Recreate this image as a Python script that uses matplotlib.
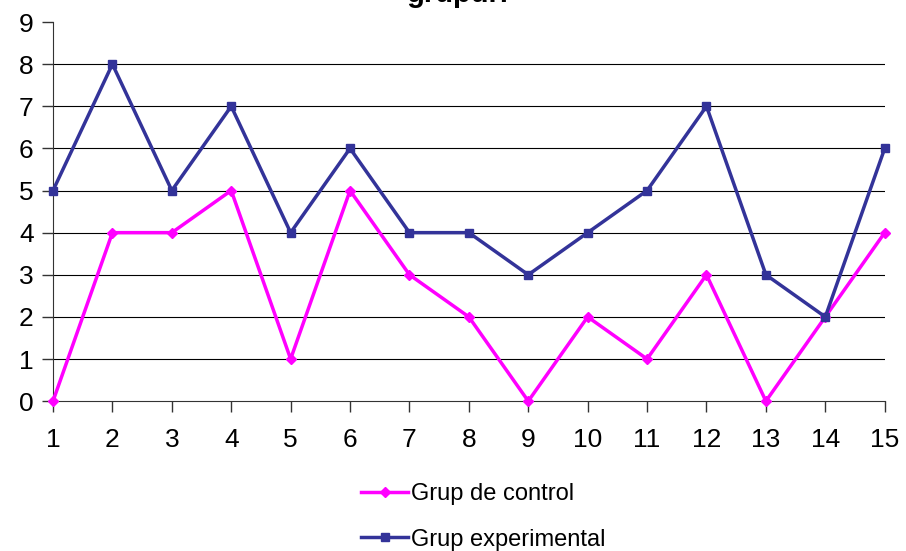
import matplotlib
matplotlib.use('Agg')
import matplotlib.pyplot as plt

plt.rcParams['font.family'] = ['Liberation Sans', 'DejaVu Sans']

sessions = list(range(1, 16))
control = [0, 4, 4, 5, 1, 5, 3, 2, 0, 2, 1, 3, 0, 2, 4]
experimental = [5, 8, 5, 7, 4, 6, 4, 4, 3, 4, 5, 7, 3, 2, 6]

fig = plt.figure(figsize=(9.06, 5.51), dpi=100)
ax = fig.add_axes([0.0585, 0.272, 0.918, 0.688])

ax.plot(sessions, control, color='#FF00FF', linewidth=2.5, marker='D', markersize=5,
        label='Grup de control', clip_on=False, zorder=3)
ax.plot(sessions, experimental, color='#333399', linewidth=2.5, marker='s', markersize=6,
        label='Grup experimental', clip_on=False, zorder=4)

ax.set_xlim(1, 15)
ax.set_ylim(0, 9)
ax.set_xticks(sessions)
ax.set_yticks(range(0, 10))
ax.tick_params(axis='both', labelsize=19, direction='out', length=8, width=1, color='#333333')
ax.tick_params(axis='x', pad=11)
ax.tick_params(axis='y', pad=6)

for y in range(1, 9):
    ax.axhline(y, color='black', linewidth=0.8, zorder=1)

ax.spines['top'].set_visible(False)
ax.spines['right'].set_visible(False)
ax.spines['left'].set_color('#333333')
ax.spines['bottom'].set_color('#333333')

# title sits partly above the top edge, as in the original
fig.text(0.505, 1 - 8 / 551, 'grupuri', ha='center', va='bottom', fontsize=21, fontweight='bold')

ax.legend(loc='upper center', bbox_to_anchor=(0.517, -0.16), frameon=False, fontsize=17,
          handlelength=2.0, labelspacing=1.0, handletextpad=0.1)

fig.savefig('out.png', dpi=100, facecolor='white')
